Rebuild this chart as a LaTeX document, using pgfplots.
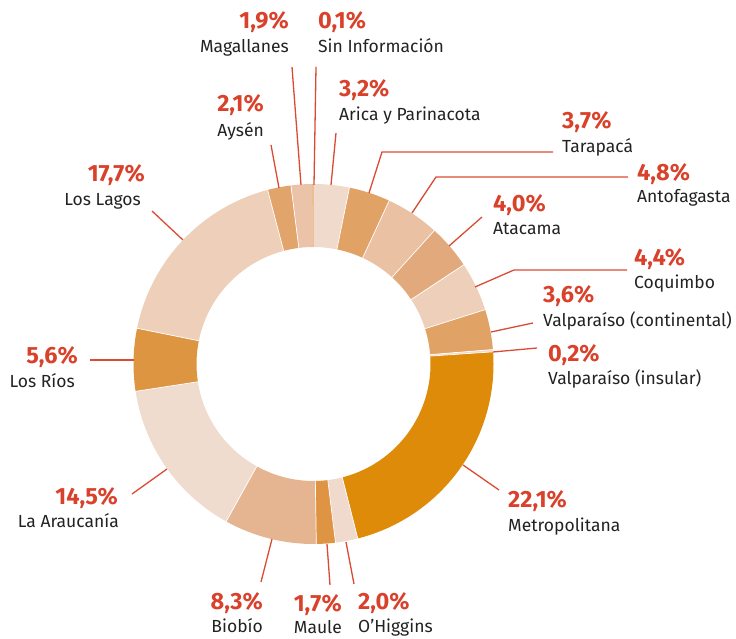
\documentclass[border=0pt]{standalone}
\usepackage{pgfplots}
\pgfplotsset{compat=1.18}
\usepackage{pgfplotstable}
\usepackage{fontspec}
\setmainfont{Fira Sans}
\definecolor{lab}{HTML}{D9412B}
\definecolor{lead}{HTML}{DB4B33}
\definecolor{txt}{HTML}{222222}

\pgfplotstableread{
region value color
Arica 3.2 F0DACC
Tarapaca 3.7 E1A266
Antofagasta 4.8 EAC1A3
Atacama 4.0 E2AA7C
Coquimbo 4.4 EECFBA
ValpCont 3.6 E0A265
ValpIns 0.2 F0DACC
Metropolitana 22.1 DD8B08
OHiggins 2.0 F0DACE
Maule 1.7 DE9443
Biobio 8.3 E5B591
Araucania 14.5 F0DBCF
LosRios 5.6 DE9542
LosLagos 17.7 EECFBA
Aysen 2.1 E1A56C
Magallanes 1.9 EAC3A8
SinInfo 0.1 E3A865
}\regiondata

\newcommand{\pct}[1]{{\fontsize{23.5}{26}\selectfont\bfseries\color{lab}#1}}
\newcommand{\nm}[1]{{\fontsize{17.5}{20}\selectfont\color{txt}#1}}

\begin{document}
\begin{tikzpicture}
\begin{axis}[
  hide axis, scale only axis, clip=false,
  x=1pt, y=1pt,
  xmin=0, xmax=736, ymin=0, ymax=639,
]
\pgfplotsextra{
  \pgfplotstablegetrowsof{\regiondata}
  \pgfmathtruncatemacro\nrows{\pgfplotsretval-1}
  \gdef\total{0}
  \foreach \i in {0,...,\nrows}{
    \pgfplotstablegetelem{\i}{value}\of\regiondata
    \pgfmathsetmacro\tt{\total+\pgfplotsretval}
    \xdef\total{\tt}
  }
  \gdef\cum{0}
  \gdef\prevval{0.1}
  \foreach \i in {0,...,\nrows}{
    \pgfplotstablegetelem{\i}{value}\of\regiondata \let\val\pgfplotsretval
    \pgfplotstablegetelem{\i}{color}\of\regiondata \let\hex\pgfplotsretval
    \edef\tmp{\noexpand\definecolor{slc}{HTML}{\hex}}\tmp
    \pgfmathsetmacro\aa{90-(\cum/\total)*360}
    \pgfmathsetmacro\newcum{\cum+\val}
    \pgfmathsetmacro\bb{90-(\newcum/\total)*360}
    \fill[slc] ([shift={(axis cs:313.5,275)}]\aa:180pt) arc[start angle=\aa, end angle=\bb, radius=180pt]
       -- ([shift={(axis cs:313.5,275)}]\bb:117pt) arc[start angle=\bb, end angle=\aa, radius=117pt] -- cycle;
    \pgfmathtruncatemacro\sep{(\val>=0.15)&&(\prevval>=0.15)}
    \ifnum\sep>0
      \draw[white, line width=0.7pt] ([shift={(axis cs:313.5,275)}]\aa:116pt) -- ([shift={(axis cs:313.5,275)}]\aa:181pt);
    \fi
    \xdef\cum{\newcum}
    \xdef\prevval{\val}
  }
  \coordinate (BL) at (axis cs:0,0);
  \coordinate (TR) at (axis cs:736,639);
}

% leader lines
\begin{scope}[lead, line width=1.3pt]
\draw (axis cs:292,572) -- (axis cs:301,454);
\draw (axis cs:316,572) -- (axis cs:314,454);
\draw (axis cs:336,506) -- (axis cs:331,454);
\draw (axis cs:271,494) -- (axis cs:279,451);
\draw (axis cs:369,446) -- (axis cs:382,487) -- (axis cs:553,487);
\draw (axis cs:412,426) -- (axis cs:436,462) -- (axis cs:628,462);
\draw (axis cs:449,393) -- (axis cs:482,422);
\draw (axis cs:475,352) -- (axis cs:514,369) -- (axis cs:627,369);
\draw (axis cs:491,307) -- (axis cs:533,316);
\draw (axis cs:493,287) -- (axis cs:537,291);
\draw (axis cs:463,174) -- (axis cs:499,149);
\draw (axis cs:346,97) -- (axis cs:354,55);
\draw (axis cs:327,95) -- (axis cs:330,54);
\draw (axis cs:272,100) -- (axis cs:261,57);
\draw (axis cs:167,170) -- (axis cs:132,145);
\draw (axis cs:134,279) -- (axis cs:90,279);
\draw (axis cs:183,399) -- (axis cs:152,428);
\end{scope}

% labels left-aligned
\node[anchor=base west, inner sep=0] at (axis cs:318,610) {\pct{0,1\%}};
\node[anchor=base west, inner sep=0] at (axis cs:318,586) {\nm{Sin Información}};
\node[anchor=base west, inner sep=0] at (axis cs:339,542) {\pct{3,2\%}};
\node[anchor=base west, inner sep=0] at (axis cs:339,518) {\nm{Arica y Parinacota}};
\node[anchor=base west, inner sep=0] at (axis cs:562,510) {\pct{3,7\%}};
\node[anchor=base west, inner sep=0] at (axis cs:562,486) {\nm{Tarapacá}};
\node[anchor=base west, inner sep=0] at (axis cs:637,458) {\pct{4,8\%}};
\node[anchor=base west, inner sep=0] at (axis cs:637,436) {\nm{Antofagasta}};
\node[anchor=base west, inner sep=0] at (axis cs:493,427) {\pct{4,0\%}};
\node[anchor=base west, inner sep=0] at (axis cs:493,404) {\nm{Atacama}};
\node[anchor=base west, inner sep=0] at (axis cs:634,373) {\pct{4,4\%}};
\node[anchor=base west, inner sep=0] at (axis cs:634,350) {\nm{Coquimbo}};
\node[anchor=base west, inner sep=0] at (axis cs:543,336) {\pct{3,6\%}};
\node[anchor=base west, inner sep=0] at (axis cs:543,312) {\nm{Valparaíso (continental)}};
\node[anchor=base west, inner sep=0] at (axis cs:548,277) {\pct{0,2\%}};
\node[anchor=base west, inner sep=0] at (axis cs:548,254) {\nm{Valparaíso (insular)}};
\node[anchor=base west, inner sep=0] at (axis cs:508,131) {\pct{22,1\%}};
\node[anchor=base west, inner sep=0] at (axis cs:508,107) {\nm{Metropolitana}};
\node[anchor=base west, inner sep=0] at (axis cs:358,29) {\pct{2,0\%}};
\node[anchor=base west, inner sep=0] at (axis cs:358,6) {\nm{O{\char"0027}Higgins}};
% labels right-aligned
\node[anchor=base east, inner sep=0] at (axis cs:289,610) {\pct{1,9\%}};
\node[anchor=base east, inner sep=0] at (axis cs:289,586) {\nm{Magallanes}};
\node[anchor=base east, inner sep=0] at (axis cs:264,527) {\pct{2,1\%}};
\node[anchor=base east, inner sep=0] at (axis cs:264,502) {\nm{Aysén}};
\node[anchor=base east, inner sep=0] at (axis cs:145,457) {\pct{17,7\%}};
\node[anchor=base east, inner sep=0] at (axis cs:141,433) {\nm{Los Lagos}};
\node[anchor=base east, inner sep=0] at (axis cs:78,275) {\pct{5,6\%}};
\node[anchor=base east, inner sep=0] at (axis cs:75,251) {\nm{Los Ríos}};
\node[anchor=base east, inner sep=0] at (axis cs:118,134) {\pct{14,5\%}};
\node[anchor=base east, inner sep=0] at (axis cs:119,111) {\nm{La Araucanía}};
\node[anchor=base east, inner sep=0] at (axis cs:263,29) {\pct{8,3\%}};
\node[anchor=base east, inner sep=0] at (axis cs:263,6) {\nm{Biobío}};
\node[anchor=base east, inner sep=0] at (axis cs:342,27) {\pct{1,7\%}};
\node[anchor=base east, inner sep=0] at (axis cs:342,5) {\nm{Maule}};
\end{axis}
\pgfresetboundingbox
\path (BL) rectangle (TR);
\end{tikzpicture}
\end{document}
